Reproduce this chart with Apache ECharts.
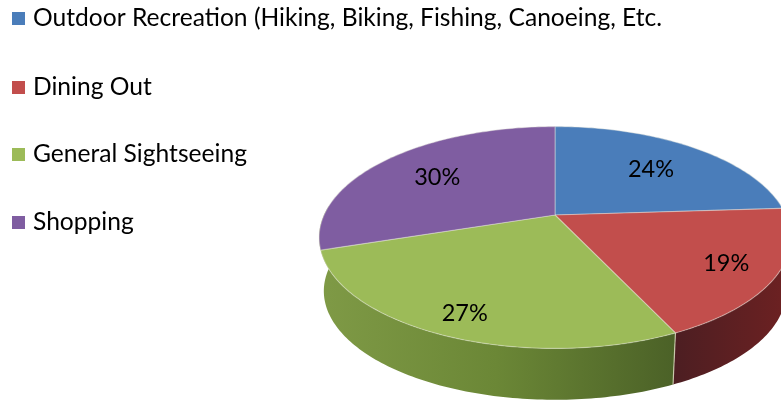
<!DOCTYPE html>
<html>
<head>
<meta charset="utf-8">
<style>
  html, body { margin: 0; background: #fff; }
  #chart { width: 781px; height: 403px; }
</style>
<script src="https://cdn.jsdelivr.net/npm/echarts@6/dist/echarts.min.js"></script>
</head>
<body>
<div id="chart"></div>
<script>
const categories = ['Outdoor Recreation (Hiking, Biking, Fishing, Canoeing, Etc.', 'Dining Out', 'General Sightseeing', 'Shopping']
const values = [24, 19, 27, 30]
const colors = ['#4a7dba', '#c24e4c', '#9cbb58', '#7f5da1']

const FONT = 'Lato, "Open Sans", sans-serif'
const legendTops = [6, 75, 142, 210]
const sideColors = [null, ['#6e2122', '#4c1e22'], ['#7f9a46', '#6b8736', '#4b6127'], null]

// the disc is drawn in perspective, so the centre sits above the middle of the ellipse
const disc = { x: 555, y: 215, a: 231, b: 106.4, k: -0.2027 }
const depth = { dy: 54, scale: 0.98 }
const total = values.reduce((sum, v) => sum + v, 0)

function project(deg, r = 1, scale = 1, dy = 0) {
  const rad = deg * Math.PI / 180
  const u = Math.sin(rad) * r
  const v = -Math.cos(rad) * r
  const w = 1 + disc.k * v
  return [disc.x + scale * disc.a * u / w, disc.y + dy + scale * disc.b * v / w]
}

function arc(from, to, scale, dy) {
  const pts = []
  const steps = Math.ceil(Math.abs(to - from))
  for (let i = 0; i <= steps; i++)
    pts.push(project(from + (to - from) * i / steps, 1, scale, dy))
  return pts
}

function sliceRange(index) {
  const before = values.slice(0, index).reduce((sum, v) => sum + v, 0)
  return [before / total * 360, (before + values[index]) / total * 360]
}

function renderSide(index) {
  const [from, end] = sliceRange(index)
  // the last front slice wraps round to the left edge of the disc
  const to = index === 2 ? 275 : end
  const top = arc(from, to, 1, 0)
  const bottom = arc(to, from, depth.scale, depth.dy)
  const stops = sideColors[index].map((color, i, all) => ({ offset: i / (all.length - 1), color }))
  return {
    type: 'group',
    children: [
      {
        type: 'polygon',
        shape: { points: top.concat(bottom) },
        style: { fill: new echarts.graphic.LinearGradient(index === 2 ? 0 : 1, 0, index === 2 ? 1 : 0, 0, stops) },
      },
      {
        type: 'line',
        shape: {
          x1: top[0][0], y1: top[0][1],
          x2: bottom[bottom.length - 1][0], y2: bottom[bottom.length - 1][1],
        },
        style: { stroke: 'rgba(235,235,205,0.7)', lineWidth: 1.2 },
      },
    ],
  }
}

function renderTop(index) {
  const [from, to] = sliceRange(index)
  const mid = (from + to) / 2
  // labels sit further out on the near side of the disc
  const labelPos = project(mid, 0.74 - 0.1 * Math.cos(mid * Math.PI / 180))
  return {
    type: 'group',
    children: [
      {
        type: 'polygon',
        shape: { points: [[disc.x, disc.y]].concat(arc(from, to, 1, 0)) },
        style: { fill: colors[index], stroke: 'rgba(235,235,225,0.4)', lineWidth: 1.2 },
      },
      {
        type: 'text',
        x: labelPos[0],
        y: labelPos[1] + 2,
        style: {
          text: values[index] + '%',
          fill: '#000',
          font: '23.5px ' + FONT,
          align: 'center',
          verticalAlign: 'middle',
        },
      },
    ],
  }
}

const sideSeries = [1, 2].map(index => ({
  type: 'custom',
  name: categories[index] + ' side',
  coordinateSystem: 'none',
  data: [values[index]],
  z: 1,
  silent: true,
  renderItem: () => renderSide(index),
}))

const topSeries = categories.map((name, index) => ({
  type: 'custom',
  name,
  coordinateSystem: 'none',
  data: [values[index]],
  z: 2,
  itemStyle: { color: colors[index] },
  renderItem: () => renderTop(index),
}))

const chart = echarts.init(document.getElementById('chart'), null, { renderer: 'canvas' })
chart.setOption({
  backgroundColor: '#fff',
  animation: false,
  legend: categories.map((name, index) => ({
    data: [{ name, icon: 'rect' }],
    left: 12,
    top: legendTops[index],
    padding: 0,
    itemWidth: 13,
    itemHeight: 13,
    selectedMode: false,
    textStyle: { fontFamily: FONT, fontSize: 24.6, color: '#000', padding: [0, 0, 0, 3] },
  })),
  series: sideSeries.concat(topSeries),
})
</script>
</body>
</html>
